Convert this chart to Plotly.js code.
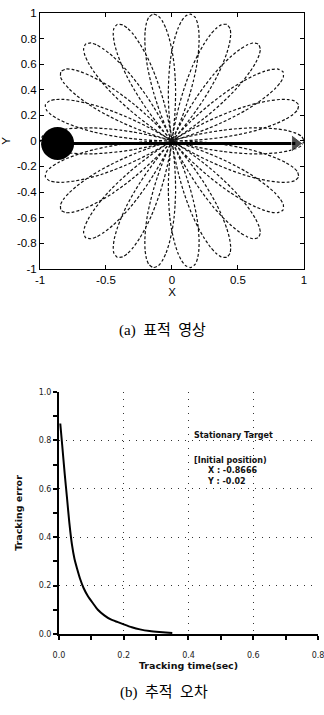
<!DOCTYPE html>
<html>
<head>
<meta charset="utf-8">
<script src="https://cdn.plot.ly/plotly-3.0.1.min.js"></script>
<style>html,body{margin:0;padding:0;background:#fff;}#chart{width:324px;height:715px;}</style>
</head>
<body>
<div id="chart"></div>
<script>
// ---- (a) target trajectory: 22 overlapping petals ----
var petalTipDeg = [0, 16.36, 32.73, 49.09, 65.45, 81.82, 98.18, 114.55, 130.91, 147.27, 163.64,
                   180, 196.36, 212.73, 229.09, 245.45, 261.82, 278.18, 294.55, 310.91, 327.27, 343.64];
// one petal outline: radius and angular half-width (deg) from petal axis
var petalR       = [0, 0.1, 0.2, 0.3, 0.4, 0.5, 0.6, 0.7, 0.8, 0.88, 0.94, 0.98, 1.0];
var petalHalfDeg = [16.4, 15.3, 14.3, 13.2, 12.1, 10.9, 9.7, 8.3, 6.7, 5.2, 3.7, 2.2, 0];
var targetX = [-0.8666];
var targetY = [-0.02];
var arrowX = [-0.8666, 0.935];
var arrowY = [-0.02, -0.02];
var xTickVals = [-1, -0.5, 0, 0.5, 1];
var xTickText = ['-1', '-0.5', '0', '0.5', '1'];
var yTickVals = [-1, -0.8, -0.6, -0.4, -0.2, 0, 0.2, 0.4, 0.6, 0.8, 1];
var yTickText = ['-1', '-0.8', '-0.6', '-0.4', '-0.2', '0', '0.2', '0.4', '0.6', '0.8', '1'];

// ---- (b) tracking error ----
var trackTime = [0.004, 0.01, 0.0175, 0.025, 0.032, 0.04, 0.048, 0.056, 0.066, 0.076, 0.09, 0.105,
                 0.12, 0.14, 0.16, 0.18, 0.2, 0.225, 0.25, 0.28, 0.31, 0.35];
var trackErr  = [0.87, 0.78, 0.665, 0.56, 0.46, 0.37, 0.31, 0.27, 0.225, 0.19, 0.155, 0.127,
                 0.1, 0.077, 0.06, 0.05, 0.04, 0.028, 0.019, 0.012, 0.008, 0.004];
var x2TickVals = [0, 0.2, 0.4, 0.6, 0.8];
var x2TickText = ['0.0', '0.2', '0.4', '0.6', '0.8'];

// build the petal path from the outline table (polar -> x/y for the cartesian axes)
var px = [], py = [];
var d2r = Math.PI / 180;
petalTipDeg.forEach(function (tip) {
  var i, a;
  for (i = 0; i < petalR.length; i++) {
    a = (tip + petalHalfDeg[i]) * d2r;
    px.push(petalR[i] * Math.cos(a)); py.push(petalR[i] * Math.sin(a));
  }
  for (i = petalR.length - 2; i >= 0; i--) {
    a = (tip - petalHalfDeg[i]) * d2r;
    px.push(petalR[i] * Math.cos(a)); py.push(petalR[i] * Math.sin(a));
  }
});

var fontA = {family: 'Liberation Sans, Arial, sans-serif', size: 11.5, color: '#000'};
var fontB = {family: 'DejaVu Sans, sans-serif', size: 8, color: '#222'};
var fontBold = {family: 'DejaVu Sans, sans-serif', size: 9.5, color: '#111', weight: 'bold'};
var fontNote = {family: 'DejaVu Sans, sans-serif', size: 8, color: '#111', weight: 'bold'};
var fontCap = {family: 'Liberation Serif, Noto Sans CJK KR, serif', size: 15, color: '#000'};
var nb = '\u00a0\u00a0\u00a0\u00a0\u00a0';

var data = [
  {x: px, y: py, xaxis: 'x', yaxis: 'y', type: 'scatter', mode: 'lines',
   line: {color: '#111', width: 1.2, dash: '3px,2px', shape: 'spline', smoothing: 0.6}, hoverinfo: 'skip'},
  {x: arrowX, y: arrowY, xaxis: 'x', yaxis: 'y', type: 'scatter', mode: 'lines+markers',
   line: {color: '#000', width: 3},
   marker: {symbol: 'triangle-right', size: [0, 15], color: '#000'}},
  {x: targetX, y: targetY, xaxis: 'x', yaxis: 'y', type: 'scatter', mode: 'markers',
   marker: {symbol: 'circle', size: 33, color: '#000'}},
  {x: trackTime, y: trackErr, xaxis: 'x2', yaxis: 'y2', type: 'scatter', mode: 'lines',
   line: {color: '#000', width: 2, shape: 'spline', smoothing: 0.5}}
];

var layout = {
  width: 324, height: 715,
  margin: {l: 0, r: 0, t: 0, b: 0},
  paper_bgcolor: '#fff', plot_bgcolor: '#fff',
  showlegend: false,
  xaxis: {domain: [0.1235, 0.938], range: [-1, 1], anchor: 'y',
          tickvals: xTickVals, ticktext: xTickText,
          ticks: 'inside', ticklen: 4, tickcolor: '#000', showline: true, linecolor: '#000', linewidth: 1,
          mirror: 'ticks', showgrid: false, zeroline: false, tickfont: fontA,
          title: {text: 'X', font: fontA, standoff: 2}},
  yaxis: {domain: [0.624, 0.982], range: [-1, 1], anchor: 'x',
          tickvals: yTickVals, ticktext: yTickText,
          ticks: 'inside', ticklen: 4, tickcolor: '#000', showline: true, linecolor: '#000', linewidth: 1,
          mirror: 'ticks', showgrid: false, zeroline: false, tickfont: fontA,
          title: {text: 'Y', font: fontA, standoff: 7}},
  xaxis2: {domain: [0.182, 0.9815], range: [0, 0.8], anchor: 'y2',
           tickvals: x2TickVals, ticktext: x2TickText, ticklabeloverflow: 'allow',
           ticks: 'outside', ticklen: 4, tickwidth: 2, tickcolor: '#000', ticklabelstandoff: 8,
           minor: {dtick: 0.1, ticks: 'outside', ticklen: 4, tickwidth: 2, tickcolor: '#000', showgrid: false},
           showline: true, linecolor: '#000', linewidth: 2,
           showgrid: true, gridcolor: '#333', gridwidth: 1, griddash: '1px,6px',
           zeroline: false, tickfont: fontB,
           title: {text: 'Tracking time(sec)', font: fontBold, standoff: 1}},
  yaxis2: {domain: [0.1133, 0.4517], range: [0, 1], anchor: 'x2',
           dtick: 0.2, tick0: 0, tickformat: '.1f',
           ticks: 'outside', ticklen: 4, tickwidth: 2, tickcolor: '#000',
           minor: {dtick: 0.1, ticks: 'outside', ticklen: 4, tickwidth: 2, tickcolor: '#000', showgrid: false},
           showline: true, linecolor: '#000', linewidth: 2,
           showgrid: true, gridcolor: '#333', gridwidth: 1, griddash: '1px,6px',
           zeroline: false, tickfont: fontB,
           title: {text: 'Tracking error', font: fontBold, standoff: 14}},
  annotations: [
    {xref: 'x2', yref: 'y2', x: 0.411, y: 0.822, xanchor: 'left', yanchor: 'middle', showarrow: false,
     text: 'Stationary Target', font: fontNote},
    {xref: 'x2', yref: 'y2', x: 0.411, y: 0.674, xanchor: 'left', yanchor: 'middle', showarrow: false, align: 'left',
     text: '[Initial position)<br>' + nb + 'X : -0.8666<br>' + nb + 'Y : -0.02', font: fontNote},
    {xref: 'paper', yref: 'paper', x: 0.503, y: 0.538, xanchor: 'center', yanchor: 'middle', showarrow: false,
     text: '(a)\u00a0 표적\u00a0 영상', font: fontCap},
    {xref: 'paper', yref: 'paper', x: 0.506, y: 0.031, xanchor: 'center', yanchor: 'middle', showarrow: false,
     text: '(b)\u00a0 추적\u00a0 오차', font: fontCap}
  ]
};

Plotly.newPlot('chart', data, layout, {staticPlot: true, displayModeBar: false});
</script>
</body>
</html>
